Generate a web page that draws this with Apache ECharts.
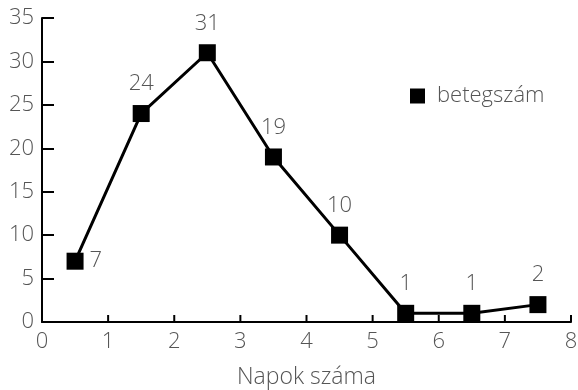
<!DOCTYPE html>
<html>
<head>
<meta charset="utf-8">
<script src="https://cdn.jsdelivr.net/npm/echarts@6/dist/echarts.min.js"></script>
<style>
  html, body { margin: 0; padding: 0; background: #fff; }
  #chart { width: 578px; height: 390px; }
</style>
</head>
<body>
<div id="chart"></div>
<script>
// napok (x) es betegszam (y)
const days = [0.5, 1.5, 2.5, 3.5, 4.5, 5.5, 6.5, 7.5];
const patients = [7, 24, 31, 19, 10, 1, 1, 2];
const xTicks = [1, 2, 3, 4, 5, 6, 7, 8];
const seriesName = 'betegszám';
const xName = 'Napok száma';

const textColor = '#555';
const fontFamily = '"Open Sans", sans-serif';

const chart = echarts.init(document.getElementById('chart'));

const option = {
    animation: false,
    grid: {left: 42, right: 7, top: 18, bottom: 68, containLabel: false, outerBoundsMode: 'none'},
    legend: {
        data: [{name: seriesName, icon: 'rect'}],
        left: 405,
        top: 80,
        itemWidth: 15,
        itemHeight: 15,
        textStyle: {color: textColor, fontSize: 22, fontFamily: fontFamily, fontWeight: 300, padding: [0, 0, 0, 7]}
    },
    xAxis: {
        type: 'value',
        min: 0,
        max: 8,
        interval: 1,
        name: xName,
        nameLocation: 'middle',
        nameGap: 44,
        nameTextStyle: {color: textColor, fontSize: 23, fontFamily: fontFamily, fontWeight: 300},
        axisLine: {show: true, onZero: false, lineStyle: {color: '#000', width: 2}},
        axisTick: {show: false},
        axisLabel: {color: textColor, fontSize: 22, fontFamily: fontFamily, fontWeight: 300, margin: 9},
        splitLine: {show: false}
    },
    yAxis: {
        type: 'value',
        min: 0,
        max: 35,
        interval: 5,
        axisLine: {show: true, onZero: false, lineStyle: {color: '#000', width: 2}},
        axisTick: {show: true, inside: true, length: 12, lineStyle: {color: '#000', width: 2}},
        axisLabel: {color: textColor, fontSize: 22, fontFamily: fontFamily, fontWeight: 300, margin: 8},
        splitLine: {show: false}
    },
    series: [{
        // inward ticks of the x axis
        name: 'ticks',
        type: 'custom',
        clip: false,
        silent: true,
        data: xTicks.map(t => [t, 0]),
        renderItem: function (params, api) {
            const p = api.coord([api.value(0), api.value(1)]);
            return {
                type: 'line',
                shape: {x1: p[0], y1: p[1], x2: p[0], y2: p[1] - 7},
                style: {stroke: '#000', lineWidth: 2}
            };
        }
    }, {
        name: seriesName,
        type: 'line',
        data: days.map((d, i) => {
            const item = {value: [d, patients[i]]};
            if (i === 0) {
                item.label = {position: 'right', distance: 6};
            }
            return item;
        }),
        symbol: 'rect',
        symbolSize: 17,
        itemStyle: {color: '#000'},
        lineStyle: {color: '#000', width: 3},
        label: {
            show: true,
            position: 'top',
            distance: 10,
            color: textColor,
            fontSize: 22,
            fontFamily: fontFamily,
            fontWeight: 300
        }
    }]
};

chart.setOption(option);

window.addEventListener('resize', function () {
    chart.resize();
});
</script>
</body>
</html>
